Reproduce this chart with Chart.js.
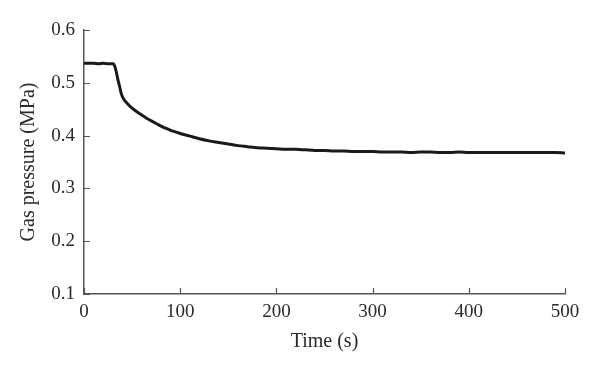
<!DOCTYPE html>
<html>
<head>
<meta charset="utf-8">
<script src="https://cdn.jsdelivr.net/npm/chart.js@4/dist/chart.umd.min.js"></script>
<style>
  html, body { margin: 0; padding: 0; background: #fff; }
  #wrap { width: 600px; height: 372px; }
</style>
</head>
<body>
<div id="wrap"><canvas id="my-chart"></canvas></div>
<script>
'use strict';

// ******* DATA *******
let timeSec = [0, 5, 10, 15, 20, 25, 30, 31, 33, 35, 37, 39, 41, 45, 50, 55, 60, 65, 70, 75, 80, 85, 90, 95, 100,
  110, 120, 130, 140, 150, 160, 170, 180, 190, 200, 210, 220, 230, 240, 250, 260, 270, 280, 290, 300,
  310, 320, 330, 340, 350, 360, 370, 380, 390, 400, 410, 420, 430, 440, 450, 460, 470, 480, 490, 500];
let gasPressure = [0.537, 0.537, 0.537, 0.536, 0.537, 0.536, 0.536, 0.535, 0.525, 0.508, 0.493, 0.478, 0.470, 0.461, 0.452, 0.445, 0.439, 0.433, 0.428, 0.423, 0.418, 0.414, 0.410, 0.407, 0.404,
  0.399, 0.394, 0.390, 0.387, 0.384, 0.381, 0.379, 0.377, 0.376, 0.375, 0.374, 0.374, 0.373, 0.372, 0.372, 0.371, 0.371, 0.370, 0.370, 0.370,
  0.369, 0.369, 0.369, 0.368, 0.369, 0.369, 0.368, 0.368, 0.369, 0.368, 0.368, 0.368, 0.368, 0.368, 0.368, 0.368, 0.368, 0.368, 0.368, 0.367];
let xTicks = [0, 100, 200, 300, 400, 500];
let yTicks = [0.1, 0.2, 0.3, 0.4, 0.5, 0.6];

let serif = '"Liberation Serif", "Times New Roman", serif';
let axisColor = '#555';
let textColor = '#2a2a2a';

// ******* INWARD TICK MARKS *******
let innerTicks = {
  id: 'innerTicks',
  afterDraw(chart) {
    let c = chart.ctx;
    let xs = chart.scales.x;
    let ys = chart.scales.y;
    let area = chart.chartArea;
    c.save();
    c.strokeStyle = axisColor;
    c.lineWidth = 1.2;
    c.beginPath();
    for (let i = 0; i < xTicks.length; i++) {
      let px = Math.round(xs.getPixelForValue(xTicks[i])) + 0.5;
      c.moveTo(px, area.bottom);
      c.lineTo(px, area.bottom - 6);
    }
    for (let i = 0; i < yTicks.length; i++) {
      let py = Math.round(ys.getPixelForValue(yTicks[i])) + 0.5;
      c.moveTo(area.left, py);
      c.lineTo(area.left + 6, py);
    }
    c.stroke();
    c.restore();
  }
};

let points = [];
for (let i = 0; i < timeSec.length; i++) {
  points.push({ x: timeSec[i], y: gasPressure[i] });
}

let ctx = document.getElementById('my-chart');

new Chart(ctx, { //eslint-disable-line
  type: 'line',
  data: {
    datasets: [{
      data: points,
      borderColor: '#1a1a1a',
      borderWidth: 3,
      pointRadius: 0,
      cubicInterpolationMode: 'monotone',
      fill: false
    }]
  },
  options: {
    responsive: true,
    maintainAspectRatio: false,
    animation: false,
    layout: { padding: { left: 0, right: 35, top: 30, bottom: 0 } },
    plugins: { legend: { display: false }, tooltip: { enabled: false } },
    scales: {
      x: {
        type: 'linear',
        min: 0,
        max: 500,
        afterBuildTicks: (s) => { s.ticks = xTicks.map(v => ({ value: v })); },
        afterFit: (s) => { s.height = 78; },
        grid: { display: true, drawOnChartArea: false, drawTicks: false },
        border: { display: true, color: axisColor, width: 1.5 },
        ticks: { color: textColor, padding: 7, font: { family: serif, size: 19 }, maxRotation: 0 },
        title: { display: true, text: 'Time (s)', color: textColor, font: { family: serif, size: 20 }, padding: { top: 0, bottom: 18 } }
      },
      y: {
        min: 0.1,
        max: 0.6,
        afterBuildTicks: (s) => { s.ticks = yTicks.map(v => ({ value: v })); },
        afterFit: (s) => { s.width = 84; },
        grid: { display: true, drawOnChartArea: false, drawTicks: false },
        border: { display: true, color: axisColor, width: 1.5 },
        ticks: { color: textColor, padding: 9, font: { family: serif, size: 19 }, callback: (v) => v.toFixed(1) },
        title: { display: true, text: 'Gas pressure (MPa)', color: textColor, font: { family: serif, size: 20 }, padding: { top: 17, bottom: 0 } }
      }
    }
  },
  plugins: [innerTicks]
});
</script>
</body>
</html>
